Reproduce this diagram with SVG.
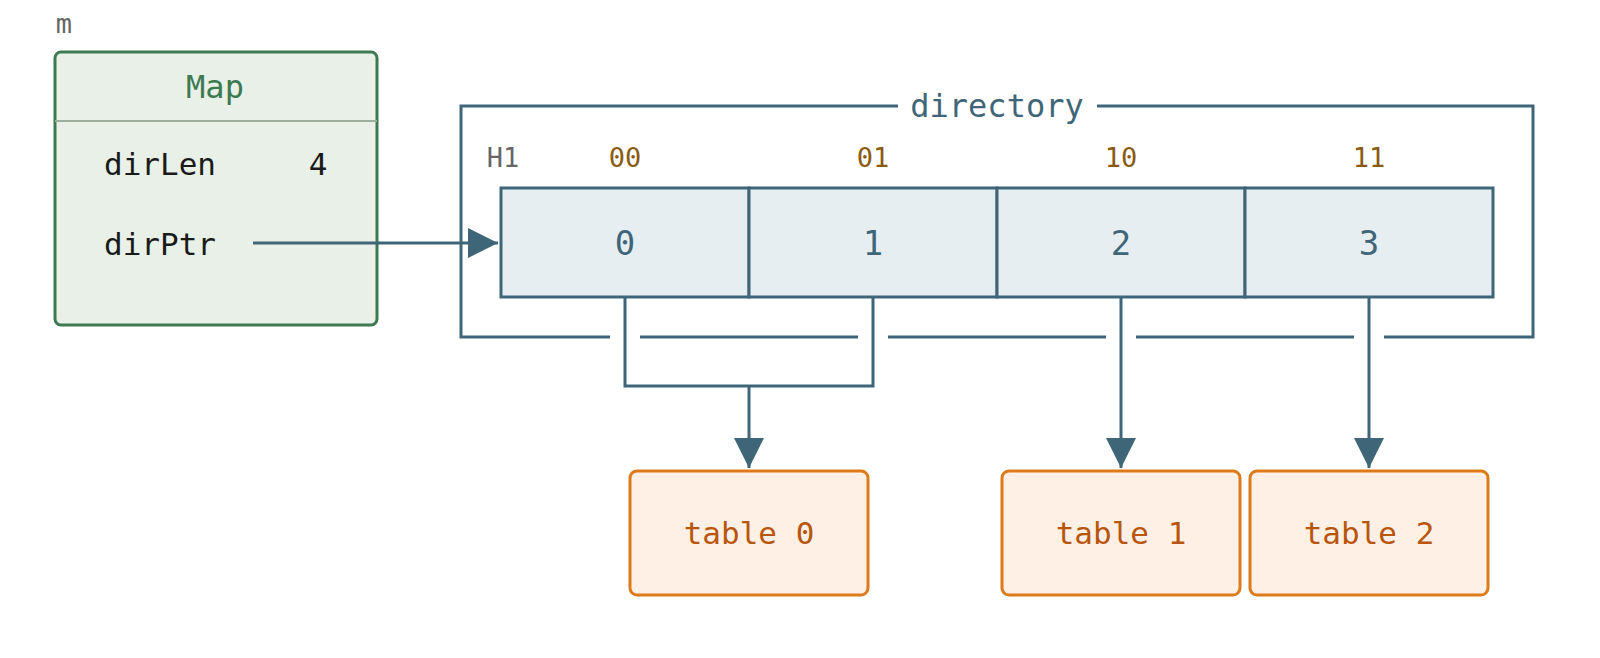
<svg xmlns="http://www.w3.org/2000/svg" width="1600" height="658" viewBox="0 0 1600 658">
<style>
text{font-family:"DejaVu Sans Mono","Liberation Mono",monospace}
.c{stroke:#3f6678;stroke-width:3;fill:none}
.cell{fill:#e6eef2;stroke:#3f6678;stroke-width:3}
.cl{fill:#3f6678;font-size:34px;text-anchor:middle}
.bit{fill:#8a5a10;font-size:27px;text-anchor:middle}
.tb{fill:#fef0e5;stroke:#dd7a1a;stroke-width:3}
.tt{fill:#b8560e;font-size:31px;text-anchor:middle}
.f{fill:#1a1a1a;font-size:31px}
</style>
<defs><marker id="b" viewBox="0 0 10 10" refX="10" refY="5" markerWidth="30" markerHeight="30" markerUnits="userSpaceOnUse" orient="auto"><path d="M0,0L10,5L0,10Z" fill="#3f6678"/></marker></defs>
<text x="64" y="33" fill="#666" font-size="27" text-anchor="middle">m</text>
<g id="map">
<rect x="55" y="52" width="322" height="273" rx="6" fill="#e8f0e8" stroke="#3d7a50" stroke-width="3"/>
<line x1="55" y1="121" x2="377" y2="121" stroke="#9aaf9e" stroke-width="2"/>
<text x="215" y="98" fill="#3d7a50" font-size="32" text-anchor="middle">Map</text>
<text x="104" y="175" class="f">dirLen</text><text x="318" y="175" class="f" text-anchor="middle">4</text>
<text x="104" y="255" class="f">dirPtr</text>
</g>
<g id="directory">
<path class="c" d="M898,106H461V337H610M640,337H858M888,337H1106M1136,337H1354M1384,337H1533V106H1097"/>
<text x="997" y="117" fill="#3f6678" font-size="32" text-anchor="middle">directory</text>
<text x="503" y="167" fill="#666" font-size="27" text-anchor="middle">H1</text>
<text x="625" y="167" class="bit">00</text><text x="873" y="167" class="bit">01</text><text x="1121" y="167" class="bit">10</text><text x="1369" y="167" class="bit">11</text>
<g id="cell0"><rect class="cell" x="501" y="188" width="248" height="109"/><text x="625" y="255" class="cl">0</text></g>
<g id="cell1"><rect class="cell" x="749" y="188" width="248" height="109"/><text x="873" y="255" class="cl">1</text></g>
<g id="cell2"><rect class="cell" x="997" y="188" width="248" height="109"/><text x="1121" y="255" class="cl">2</text></g>
<g id="cell3"><rect class="cell" x="1245" y="188" width="248" height="109"/><text x="1369" y="255" class="cl">3</text></g>
</g>
<g id="table0"><rect class="tb" x="630" y="471" width="238" height="124" rx="7"/><text x="749" y="544" class="tt">table 0</text></g>
<g id="table1"><rect class="tb" x="1002" y="471" width="238" height="124" rx="7"/><text x="1121" y="544" class="tt">table 1</text></g>
<g id="table2"><rect class="tb" x="1250" y="471" width="238" height="124" rx="7"/><text x="1369" y="544" class="tt">table 2</text></g>
<g id="connectors">
<path class="c" d="M253,243H498" marker-end="url(#b)"/>
<path class="c" d="M625,297V386H873V297"/>
<path class="c" d="M749,386V468" marker-end="url(#b)"/>
<path class="c" d="M1121,297V468" marker-end="url(#b)"/>
<path class="c" d="M1369,297V468" marker-end="url(#b)"/>
</g>
</svg>
